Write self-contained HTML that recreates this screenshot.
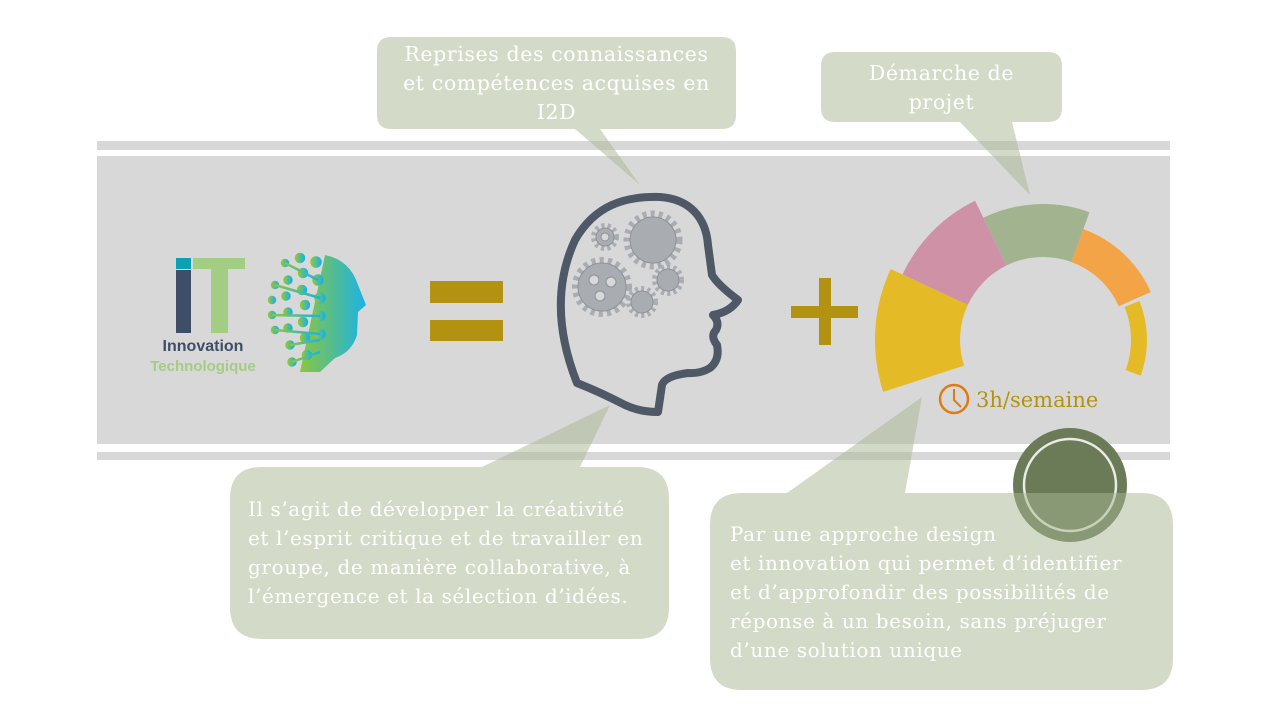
<!DOCTYPE html>
<html><head><meta charset="utf-8"><style>
html,body{margin:0;padding:0;background:#fff;}
body{width:1280px;height:720px;position:relative;overflow:hidden;font-family:"DejaVu Serif",serif;}
.t{position:absolute;color:#fff;font-size:20px;letter-spacing:0.6px;line-height:29px;font-family:"DejaVu Serif",serif;white-space:nowrap;}
</style></head><body>
<svg width="1280" height="720" style="position:absolute;left:0;top:0">
<rect x="97" y="141" width="1073" height="319" fill="#d8d8d8"/>
<rect x="97" y="150" width="1073" height="6" fill="#fff"/>
<rect x="97" y="444" width="1073" height="8" fill="#fff"/>
<rect x="176" y="258" width="15" height="11" fill="#0aa0b5"/>
<rect x="176" y="270" width="15" height="63" fill="#3e4e68"/>
<rect x="193" y="258" width="52" height="11" fill="#a2cd83"/>
<rect x="211" y="258" width="17" height="75" fill="#a2cd83"/>
<text x="203" y="351" font-family="Liberation Sans,sans-serif" font-weight="bold" font-size="16" fill="#3e4e68" text-anchor="middle">Innovation</text>
<text x="203" y="371" font-family="Liberation Sans,sans-serif" font-weight="bold" font-size="15" fill="#a2cd83" text-anchor="middle">Technologique</text>
<defs><linearGradient id="fg" x1="0" x2="1"><stop offset="0" stop-color="#8cc63f"/><stop offset="1" stop-color="#1ab3e6"/></linearGradient></defs>
<g fill="url(#fg)" stroke="url(#fg)" stroke-width="2.5">
<path d="M325 255 Q350 260 358 285 L366 305 L358 312 L357 335 Q352 352 335 358 L320 372 L300 372 Z" stroke="none"/>
<circle cx="275" cy="285" r="3"/><circle cx="272" cy="300" r="3"/><circle cx="272" cy="315" r="3"/><circle cx="275" cy="330" r="3"/>
<circle cx="285" cy="263" r="3"/><circle cx="288" cy="280" r="3.5"/><circle cx="286" cy="296" r="3.5"/><circle cx="288" cy="312" r="3.5"/><circle cx="288" cy="328" r="3.5"/><circle cx="290" cy="345" r="3.5"/><circle cx="292" cy="362" r="3.5"/>
<circle cx="300" cy="258" r="4"/><circle cx="303" cy="273" r="4"/><circle cx="302" cy="290" r="4"/><circle cx="305" cy="305" r="4"/><circle cx="303" cy="322" r="4"/><circle cx="305" cy="338" r="4"/><circle cx="307" cy="355" r="4"/>
<circle cx="316" cy="262" r="4.5"/><circle cx="318" cy="280" r="4.5"/><circle cx="320" cy="298" r="4.5"/><circle cx="320" cy="316" r="4.5"/><circle cx="320" cy="334" r="4.5"/>
<line x1="275" y1="285" x2="320" y2="298"/><line x1="272" y1="315" x2="320" y2="316"/><line x1="275" y1="330" x2="320" y2="334"/><line x1="285" y1="263" x2="318" y2="280"/><line x1="290" y1="345" x2="320" y2="340"/><line x1="292" y1="362" x2="320" y2="352"/>
</g>
<rect x="430" y="281" width="73" height="22" fill="#b39212"/>
<rect x="430" y="320" width="73" height="21" fill="#b39212"/>
<rect x="791" y="306" width="67" height="12" fill="#b39212"/>
<rect x="819" y="278" width="12" height="67" fill="#b39212"/>
<path d="M577 383 C560 340 552 290 575 240 C595 205 625 196 660 197 C690 199 706 218 708 245 L712 275 Q718 285 738 300 Q730 312 713 315 Q720 322 716 330 Q710 336 717 345 Q720 360 710 368 Q700 374 688 373 Q665 376 662 385 L658 412 Q640 412 625 405 Q600 392 577 383 Z" fill="none" stroke="#4f5866" stroke-width="8" stroke-linejoin="round"/>
<g fill="#a9adb2" stroke="#8d9299" stroke-width="1">
<circle cx="602" cy="287" r="26" stroke="#a9adb2" stroke-width="8" stroke-dasharray="4 4" fill="none"/>
<circle cx="602" cy="287" r="24"/>
<circle cx="594" cy="280" r="5" fill="#d8d8d8"/><circle cx="611" cy="282" r="5" fill="#d8d8d8"/><circle cx="600" cy="296" r="5" fill="#d8d8d8"/>
<circle cx="653" cy="240" r="26" stroke="#a9adb2" stroke-width="7" stroke-dasharray="4 4" fill="none"/>
<circle cx="653" cy="240" r="23"/>
<circle cx="605" cy="237" r="11" stroke="#a9adb2" stroke-width="6" stroke-dasharray="3 3" fill="none"/>
<circle cx="605" cy="237" r="9"/><circle cx="605" cy="237" r="4" fill="#d8d8d8"/>
<circle cx="668" cy="280" r="13" stroke="#a9adb2" stroke-width="6" stroke-dasharray="3 3" fill="none"/>
<circle cx="668" cy="280" r="11"/>
<circle cx="642" cy="302" r="13" stroke="#a9adb2" stroke-width="6" stroke-dasharray="3 3" fill="none"/>
<circle cx="642" cy="302" r="11"/>
</g>
<g id="gauge"></g>
<circle cx="954" cy="399" r="14" fill="none" stroke="#e07b10" stroke-width="2.5"/>
<path d="M954 389 L954 400 L961 407" fill="none" stroke="#e07b10" stroke-width="2"/>
<text x="976" y="407" font-size="21" fill="#b39212" font-family="DejaVu Serif,serif">3h/semaine</text>
<circle cx="1070" cy="485" r="57" fill="#6b7b58"/>
<circle cx="1070" cy="485" r="46" fill="none" stroke="#fff" stroke-width="2.5" opacity="0.85"/>
<g fill="rgba(167,183,145,0.5)">
<path d="M391 37 H722 Q736 37 736 51 V115 Q736 129 722 129 H600 L640 185 L575 129 H391 Q377 129 377 115 V51 Q377 37 391 37 Z"/>
<path d="M835 52 H1048 Q1062 52 1062 66 V108 Q1062 122 1048 122 H1012 L1030 195 L960 122 H835 Q821 122 821 108 V66 Q821 52 835 52 Z"/>
<path d="M262 467 H482 L610 405 L580 467 H637 Q669 467 669 499 V607 Q669 639 637 639 H262 Q230 639 230 607 V499 Q230 467 262 467 Z"/>
<path d="M742 493 H787 L922 397 L905 493 H1141 Q1173 493 1173 525 V658 Q1173 690 1141 690 H742 Q710 690 710 658 V525 Q710 493 742 493 Z"/>
</g>
</svg>
<div class="t" style="left:377px;top:40px;width:359px;text-align:center;font-size:20.5px">Reprises des connaissances<br>et compétences acquises en<br>I2D</div>
<div class="t" style="left:821px;top:59px;width:241px;text-align:center;font-size:20.5px">Démarche de<br>projet</div>
<div class="t" style="left:248px;top:495px;">Il s’agit de développer la créativité<br>et l’esprit critique et de travailler en<br>groupe, de manière collaborative, à<br>l’émergence et la sélection d’idées.</div>
<div class="t" style="left:730px;top:520px;">Par une approche design<br>et innovation qui permet d’identifier<br>et d’approfondir des possibilités de<br>réponse à un besoin, sans préjuger<br>d’une solution unique</div>
<script>
(function(){
var cx=1043,cy=340,g=document.getElementById('gauge');
function seg(a0,a1,ri,ro,col){
 function p(a,r){var t=a*Math.PI/180;return (cx+r*Math.cos(t)).toFixed(1)+' '+(cy+r*Math.sin(t)).toFixed(1);}
 var d='M'+p(a0,ri)+' L'+p(a0,ro)+' A'+ro+' '+ro+' 0 0 1 '+p(a1,ro)+' L'+p(a1,ri)+' A'+ri+' '+ri+' 0 0 0 '+p(a0,ri)+' Z';
 var e=document.createElementNS('http://www.w3.org/2000/svg','path');e.setAttribute('d',d);e.setAttribute('fill',col);g.appendChild(e);}
seg(162,205,83,168,'#e4bb26');
seg(205,244,83,155,'#cf91a6');
seg(244,290,83,136,'#a2b38f');
seg(290,336,83,118,'#f2a447');
seg(338,20,88,104,'#e4bb26');
})();
</script>
</body></html>
